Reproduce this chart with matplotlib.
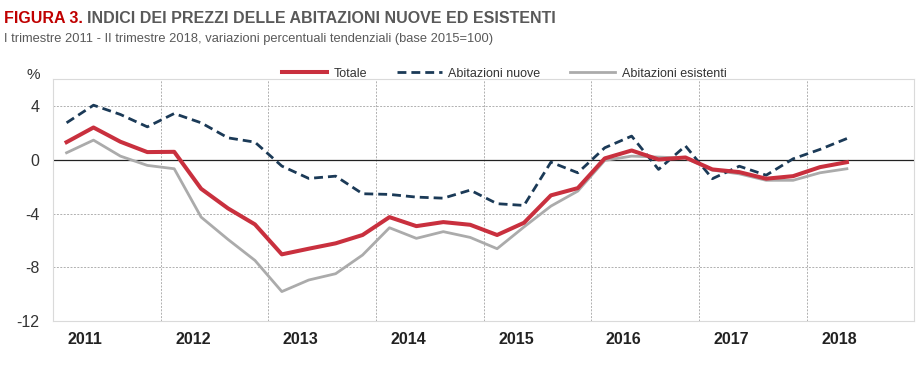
import matplotlib
matplotlib.use("Agg")
import matplotlib.pyplot as plt
from matplotlib import font_manager
import numpy as np

# dati (variazioni % tendenziali, I trim 2011 - II trim 2018)
anni = ["2011", "2012", "2013", "2014", "2015", "2016", "2017", "2018"]
totale = [1.31, 2.40, 1.34, 0.57, 0.59, -2.16, -3.62, -4.81,
          -7.04, -6.62, -6.22, -5.60, -4.27, -4.94, -4.64, -4.84,
          -5.60, -4.69, -2.65, -2.11, 0.10, 0.69, 0.02, 0.17,
          -0.72, -0.92, -1.41, -1.22, -0.55, -0.18]
nuove = [2.75, 4.06, 3.37, 2.45, 3.44, 2.75, 1.63, 1.31,
         -0.47, -1.39, -1.22, -2.53, -2.58, -2.78, -2.86, -2.26,
         -3.27, -3.40, -0.18, -0.97, 0.89, 1.76, -0.72, 1.03,
         -1.41, -0.48, -1.15, 0.07, 0.77, 1.58]
esistenti = [0.52, 1.46, 0.27, -0.42, -0.67, -4.27, -5.93, -7.49,
             -9.81, -8.95, -8.48, -7.09, -5.06, -5.85, -5.35, -5.78,
             -6.62, -5.00, -3.45, -2.33, -0.05, 0.27, 0.20, 0.12,
             -0.77, -1.05, -1.53, -1.53, -0.97, -0.67]
yticks = [4, 0, -4, -8, -12]

# font condensato se disponibile
nomi = {f.name for f in font_manager.fontManager.ttflist}
narrow = "Liberation Sans Narrow" if "Liberation Sans Narrow" in nomi else "Liberation Sans"
plt.rcParams["font.family"] = [narrow, "DejaVu Sans"]

ROSSO = "#C9303E"
BLU = "#1B3A57"
GRIGIO = "#ABABAB"
TESTO = "#595959"

fig = plt.figure(figsize=(9.16, 3.75), dpi=100)
ax = fig.add_axes([0.058, 0.144, 0.94, 0.645])

x = np.arange(len(totale))
ax.plot(x, totale, color=ROSSO, lw=2.9, label="Totale", zorder=4)
ax.plot(x, nuove, color=BLU, lw=2.0, ls=(0, (3.2, 1.8)), label="Abitazioni nuove", zorder=3)
ax.plot(x, esistenti, color=GRIGIO, lw=2.0, label="Abitazioni esistenti", zorder=2)

ax.set_xlim(-0.5, 4 * len(anni) - 0.5)
ax.set_ylim(-12, 6)
ax.axhline(0, color="#222222", lw=0.9, zorder=1)

# griglia
for v in [4, -4, -8]:
    ax.axhline(v, color="#B0B0B0", lw=0.7, ls=(0, (2, 1.5)), zorder=0)
for k in range(1, len(anni)):
    ax.axvline(4 * k - 0.5, color="#B0B0B0", lw=0.7, ls=(0, (2, 1.5)), zorder=0)

ax.set_yticks(yticks)
ax.set_yticklabels([str(v) for v in yticks], fontsize=11.5, color="#333333")
ax.set_xticks([4 * k + 0.7 for k in range(len(anni))])
ax.set_xticklabels(anni, fontsize=11.5, fontweight="bold", color="#222222")
ax.tick_params(length=0, pad=8)
ax.tick_params(axis="y", pad=10)
for s in ax.spines.values():
    s.set_color("#DADADA")
    s.set_linewidth(0.8)

fig.text(0.036, 0.79, "%", fontsize=11, color="#333333", ha="center")

leg = ax.legend(loc="center", bbox_to_anchor=(0.524, 1.022), ncol=3, frameon=False,
                fontsize=9, handlelength=3.6, columnspacing=2.4, handletextpad=0.5,
                borderaxespad=0, borderpad=0)
for t in leg.get_texts():
    t.set_color("#333333")

# titolo in due parti: la seconda parte parte dove finisce la prima
t1 = fig.text(0.004, 0.938, "FIGURA 3.", fontsize=11.5, fontweight="bold", color="#C00000")
fig.canvas.draw()
bb = t1.get_window_extent(renderer=fig.canvas.get_renderer())
x2 = (bb.x1 + 4) / fig.bbox.width
fig.text(x2, 0.938, "INDICI DEI PREZZI DELLE ABITAZIONI NUOVE ED ESISTENTI",
         fontsize=11.5, fontweight="bold", color=TESTO)
fig.text(0.004, 0.888, "I trimestre 2011 - II trimestre 2018, variazioni percentuali tendenziali (base 2015=100)",
         fontsize=9.3, color=TESTO)

fig.savefig("out.png", dpi=100)
